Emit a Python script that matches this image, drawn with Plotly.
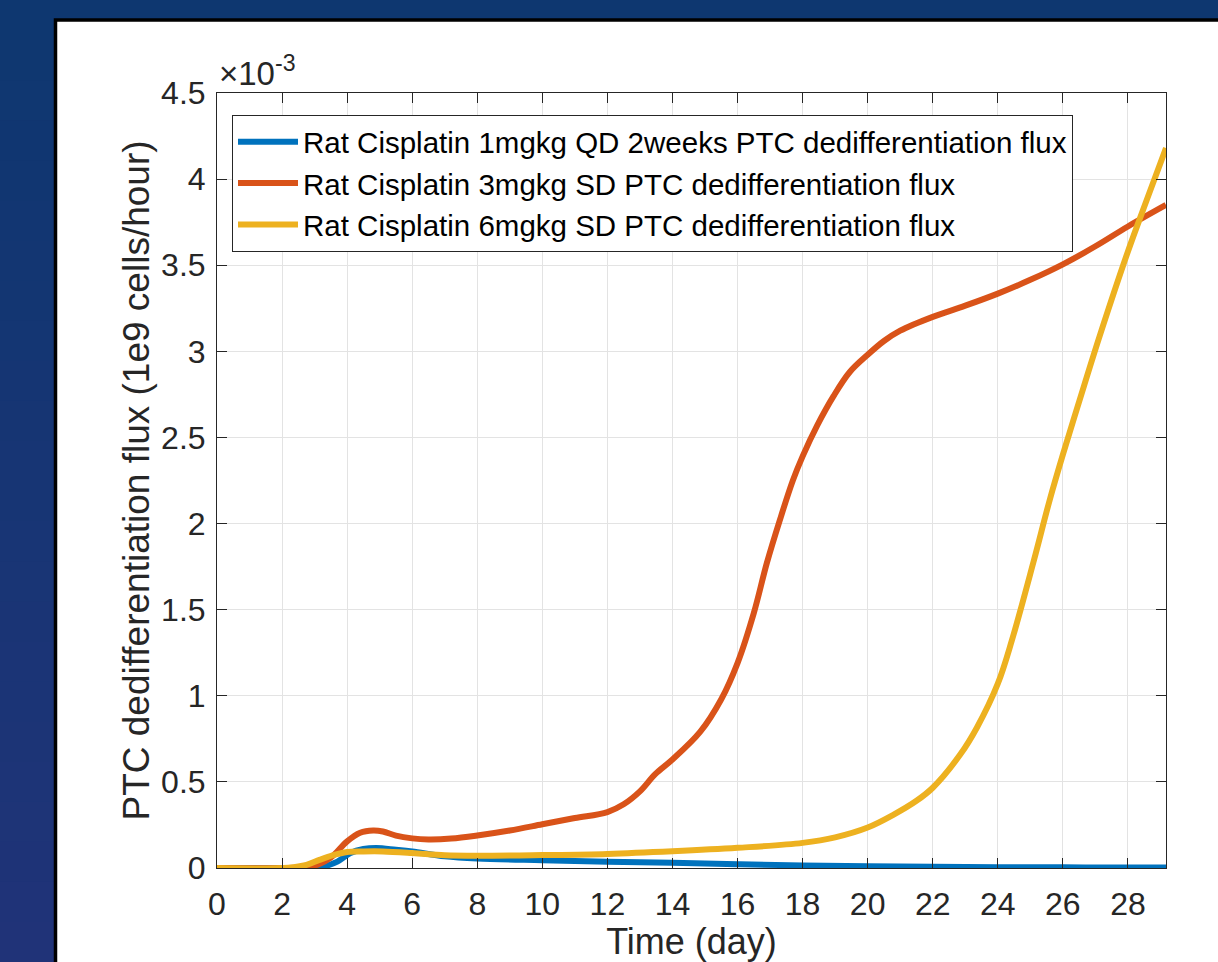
import plotly.graph_objects as go

# ---- data (flux in units of 1e-3 * 1e9 cells/hour) ----
t_blue = [0, 2.5, 3.0, 3.3, 3.7, 4.1, 4.5, 4.9, 5.5, 6.0, 7.0, 8, 10, 12, 14, 16, 18, 20, 22, 24, 26, 28, 29.17]
v_blue = [0, 0, 0.003, 0.01, 0.037, 0.087, 0.11, 0.116, 0.106, 0.096, 0.068, 0.055, 0.045, 0.037, 0.03,
          0.022, 0.015, 0.01, 0.007, 0.005, 0.004, 0.003, 0.003]

t_orange = [0, 2.2, 2.8, 3.1, 3.5, 4.0, 4.4, 4.8, 5.1, 5.5, 6.0, 6.5, 7.2, 8, 9, 10, 11, 12, 12.5, 13.0,
            13.47, 14, 14.85, 15.5, 16, 16.5, 16.9, 17.3, 17.7, 18, 18.45, 18.95, 19.45, 20, 20.5, 21, 22,
            23, 24, 25, 26, 27, 28, 29.17]
v_orange = [0, 0, 0.008, 0.02, 0.06, 0.155, 0.205, 0.218, 0.212, 0.188, 0.172, 0.166, 0.171, 0.189, 0.218,
            0.254, 0.29, 0.325, 0.37, 0.445, 0.545, 0.63, 0.79, 0.98, 1.19, 1.48, 1.77, 2.02, 2.25, 2.39,
            2.57, 2.74, 2.88, 2.98, 3.06, 3.12, 3.20, 3.265, 3.335, 3.415, 3.505, 3.61, 3.725, 3.85]

t_yellow = [0, 2.2, 2.75, 3.15, 3.55, 4.0, 4.5, 5.1, 6.0, 7.0, 8, 10, 12, 14, 16, 18, 19, 20, 20.8, 21.5,
            22, 22.85, 23.36, 24, 24.43, 25.1, 25.6, 26, 26.65, 27.15, 28, 28.6, 29.17]
v_yellow = [0, 0.002, 0.018, 0.047, 0.073, 0.093, 0.096, 0.096, 0.087, 0.074, 0.071, 0.075, 0.082, 0.097,
            0.117, 0.146, 0.178, 0.235, 0.31, 0.39, 0.466, 0.66, 0.816, 1.07, 1.32, 1.78, 2.14, 2.40,
            2.80, 3.10, 3.58, 3.89, 4.18]

names = ["Rat Cisplatin 1mgkg QD 2weeks PTC dedifferentiation flux",
         "Rat Cisplatin 3mgkg SD PTC dedifferentiation flux",
         "Rat Cisplatin 6mgkg SD PTC dedifferentiation flux"]
colors = ["#0072BD", "#D95319", "#EDB120"]

x_ticks = list(range(0, 29, 2))
y_ticks = [0, 0.5, 1, 1.5, 2, 2.5, 3, 3.5, 4, 4.5]
y_ticktext = ["0", "0.5", "1", "1.5", "2", "2.5", "3", "3.5", "4", "4.5"]

W, H = 1218, 962
L, R, T, B = 217, 52, 93, 94
pw, ph = W - L - R, H - T - B

def px_x(p):
    return (p - L) / pw

def px_y(p):
    return (H - B - p) / ph

FONT = "Liberation Sans, Arial, Helvetica, sans-serif"
INK = "#262626"

fig = go.Figure()
for tt, vv, nm, c in zip([t_blue, t_orange, t_yellow], [v_blue, v_orange, v_yellow], names, colors):
    fig.add_trace(go.Scatter(x=tt, y=vv, mode="lines", name=nm,
                             line=dict(color=c, width=6, shape="spline", smoothing=1.0)))

shapes = []
# background gradient bands (left strip)
top_rgb = (14, 55, 112)
bot_rgb = (32, 51, 120)
nb = 24
for i in range(nb):
    f = i / (nb - 1)
    col = "rgb(%d,%d,%d)" % tuple(round(a + (b - a) * f) for a, b in zip(top_rgb, bot_rgb))
    y0 = H * i / nb
    y1 = H * (i + 1) / nb + 1
    shapes.append(dict(type="rect", xref="paper", yref="paper", layer="below",
                       x0=px_x(0), x1=px_x(56), y0=px_y(y1), y1=px_y(y0),
                       fillcolor=col, line=dict(width=0)))
# white panel with black border
shapes.append(dict(type="rect", xref="paper", yref="paper", layer="below",
                   x0=px_x(55.5), x1=px_x(W + 10), y0=px_y(H + 10), y1=px_y(20),
                   fillcolor="white", line=dict(color="black", width=3.5)))

fig.update_layout(
    width=W, height=H,
    margin=dict(l=L, r=R, t=T, b=B, pad=0, autoexpand=False),
    paper_bgcolor="rgb(14,55,112)",
    plot_bgcolor="white",
    shapes=shapes,
    font=dict(family=FONT, color=INK),
    showlegend=True,
    legend=dict(x=px_x(232), y=px_y(115), xanchor="left", yanchor="top",
                bgcolor="white", bordercolor=INK, borderwidth=1,
                font=dict(family=FONT, size=29.5, color="black"),
                itemwidth=60, tracegroupgap=0),
    annotations=[dict(text="×10<sup>-3</sup>", xref="paper", yref="paper",
                      x=0, y=px_y(94), xanchor="left", yanchor="bottom", showarrow=False,
                      font=dict(family=FONT, size=33, color=INK))],
)

fig.update_xaxes(range=[0, 29.17], tickvals=x_ticks, ticks="inside", ticklen=10, tickcolor=INK,
                 showline=True, linecolor=INK, linewidth=1, mirror="ticks",
                 showgrid=True, gridcolor="#e3e3e3", gridwidth=1, zeroline=False,
                 ticklabelstandoff=8, automargin=False,
                 tickfont=dict(family=FONT, size=32, color=INK),
                 title=dict(text="Time (day)", font=dict(family=FONT, size=36, color=INK), standoff=7))
fig.update_yaxes(range=[0, 4.5], tickvals=y_ticks, ticktext=y_ticktext, ticks="inside", ticklen=10,
                 tickcolor=INK, showline=True, linecolor=INK, linewidth=1, mirror="ticks",
                 showgrid=True, gridcolor="#e3e3e3", gridwidth=1, zeroline=False,
                 ticklabelstandoff=4, automargin=False,
                 tickfont=dict(family=FONT, size=32, color=INK),
                 title=dict(text="PTC dedifferentiation flux (1e9 cells/hour)",
                            font=dict(family=FONT, size=37, color=INK), standoff=0))

fig.write_html("out.html", config={"displayModeBar": False})

# remove the browser's default body margin so the figure sits at the page origin
with open("out.html", encoding="utf-8") as fh:
    html = fh.read()
html = html.replace("<head>", "<head><style>html,body{margin:0;padding:0;overflow:hidden;}</style>", 1)
with open("out.html", "w", encoding="utf-8") as fh:
    fh.write(html)
